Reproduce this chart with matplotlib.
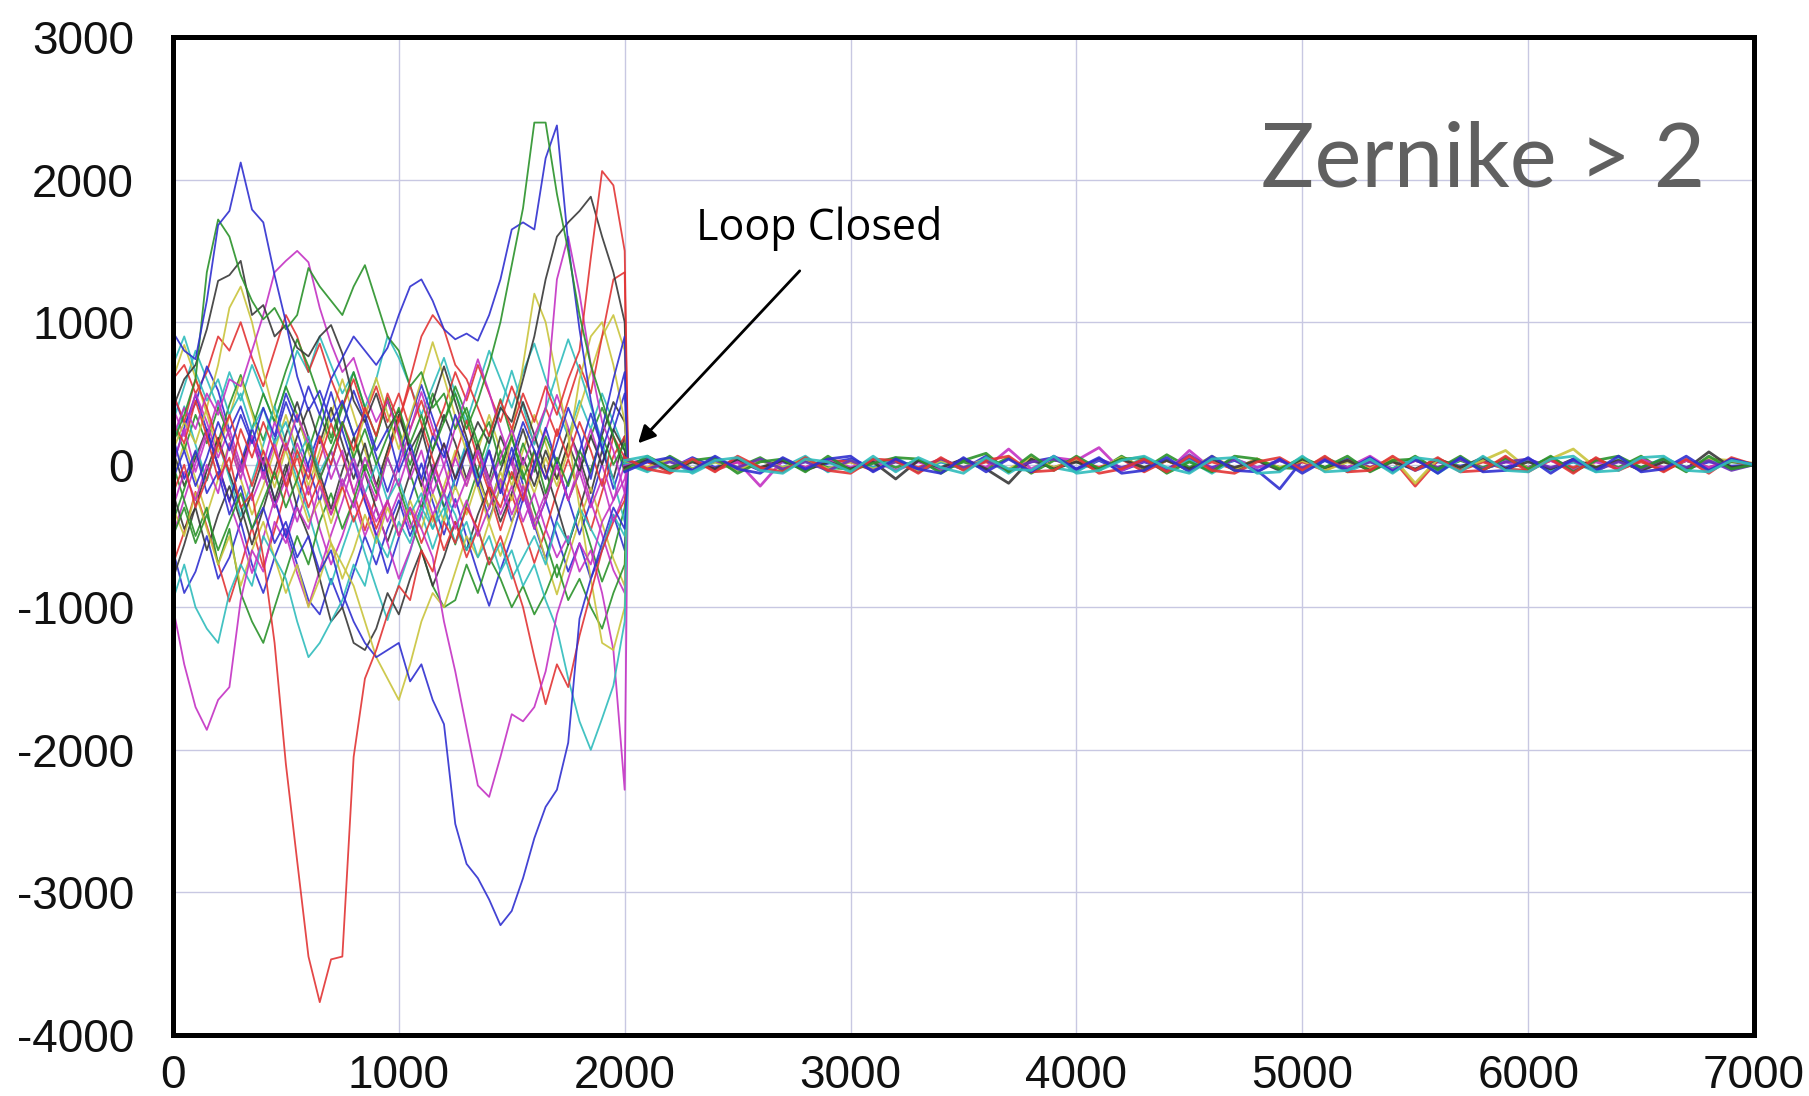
import matplotlib
matplotlib.use("Agg")
import matplotlib.pyplot as plt

# ---------------- data ----------------
open_t = list(range(0, 2001, 50))          # open-loop sample times (41)
settle_t = 2015                            # first sample after loop closure
closed_t = list(range(2000, 7001, 100))    # closed-loop sample times (51)

x_ticks = [0, 1000, 2000, 3000, 4000, 5000, 6000, 7000]
y_ticks = [-4000, -3000, -2000, -1000, 0, 1000, 2000, 3000]

blue_a = [930, 800, 740, 1150, 1680, 1780, 2120, 1790, 1700, 1330,
          1000, 620, 380, 520, 300, 450, 200, 350, 100, 250,
          -50, 150, -100, 200, 50, 350, 150, -150, 100, -200,
          50, 300, 100, -100, 150, 400, 200, -100, 250, 600, 900]
green_a = [150, 350, 600, 1350, 1720, 1600, 1330, 1150, 1020, 1100,
           950, 1050, 1380, 1250, 1150, 1050, 1250, 1400, 1150, 900,
           800, 550, 650, 400, 500, 250, 400, 150, 300, 0,
           200, -100, 100, -200, 50, -150, 100, -50, 200, 0, 150]
black_a = [400, 600, 700, 950, 1290, 1330, 1430, 1050, 1120, 900,
           980, 820, 760, 900, 980, 780, 450, 300, 500, 250,
           380, 100, 250, -50, 150, -100, 100, 300, 150, 400,
           300, 600, 900, 1300, 1600, 1700, 1780, 1880, 1600, 1350, 1000]
magenta_a = [200, 400, 250, 500, 350, 600, 550, 800, 1050, 1350,
             1430, 1500, 1420, 1100, 850, 650, 750, 500, 300, 450,
             200, -100, 100, -200, 0, -300, -100, 100, -150, 50,
             250, 0, 200, 400, 1300, 1600, 1200, 700, 300, 100, -200]
red_a = [300, 150, 450, 200, -100, 50, -300, -200, -650, -1250,
         -2100, -2780, -3450, -3770, -3470, -3450, -2050, -1500, -1300, -1050,
         -850, -950, -600, -750, -400, -550, -300, -450, -150, -300,
         -50, -250, 100, -100, 250, 50, 300, 100, -150, 200, 50]
magenta_b = [-1000, -1400, -1700, -1860, -1650, -1560, -950, -600, -750, -400,
             -550, -300, -450, -150, -350, -100, -300, -50, -250, 50,
             -150, 100, -100, -350, -200, -450, -250, -500, -300, -100,
             -350, -150, -400, -200, 0, -250, -50, -300, -100, -400, -200]
cyan_a = [-950, -700, -1000, -1150, -1250, -900, -700, -850, -500, -650,
          -800, -1100, -1350, -1250, -1100, -950, -700, -850, -500, -650,
          -400, -550, -300, -450, -200, -350, -600, -450, -700, -550,
          -800, -650, -500, -700, -400, -550, -300, -450, -600, -350, -500]
blue_b = [200, -100, 100, -200, -50, -350, -150, -450, -300, -550,
          -400, -650, -500, -750, -600, -900, -1100, -1250, -1350, -1300,
          -1250, -1520, -1400, -1650, -1820, -2520, -2800, -2900, -3050, -3230,
          -3130, -2900, -2620, -2400, -2280, -1950, -1080, -800, -550, -300, -450]
magenta_c = [-300, -50, -250, 0, -200, 150, -100, 200, 0, 300,
             100, 350, 150, -100, 100, -150, 50, -200, -400, -250,
             -500, -300, -450, -650, -1100, -1450, -1850, -2250, -2330, -2050,
             -1750, -1800, -1700, -1450, -1050, -800, -550, -700, -400, -250, -100]
red_b = [-200, 0, -300, -100, 150, -50, 250, 50, 300, 100,
         -150, 100, -100, 200, 0, 300, 100, 400, 200, 500,
         300, 600, 900, 1050, 950, 700, 600, 400, 200, 450,
         250, 500, 300, 550, 350, 600, 800, 1450, 2060, 1960, 1500]
green_b = [-500, -300, -550, -350, -600, -400, -200, -450, -250, -50,
           -300, -100, 150, -100, 100, 300, 50, 250, 0, 200,
           400, 150, 350, 100, 300, 500, 250, 450, 700, 1000,
           1400, 1800, 2400, 2400, 1900, 1500, 1050, 700, 450, 200, 0]
blue_c = [-100, 100, -150, 50, 300, 100, 350, 150, 400, 200,
          500, 300, 550, 350, 600, 750, 900, 800, 700, 820,
          1050, 1250, 1300, 1150, 950, 880, 920, 870, 1050, 1300,
          1650, 1700, 1650, 2150, 2380, 1550, 950, 450, 100, 350, 650]
red_c = [500, 300, 600, 400, 150, 350, 100, -150, 100, -100,
         150, -50, -300, -100, -350, -150, -400, -200, -450, -250,
         -500, -300, -550, -350, -600, -400, -650, -450, -700, -500,
         -750, -1000, -1350, -1680, -1400, -1560, -1200, -900, -600, -400, -250]
cyan_b = [700, 900, 650, 450, 600, 350, 500, 250, 400, 150,
          300, 50, 200, -50, 100, -150, 50, -200, 0, -250,
          -100, -350, -200, -450, -300, -550, -400, -650, -500, -750,
          -600, -850, -700, -950, -1150, -1500, -1800, -2000, -1780, -1550, -1100]
yellow_a = [100, 300, 150, 400, 700, 1100, 1250, 1000, 650, 350,
            100, -150, -400, -250, -550, -700, -850, -1100, -1350, -1500,
            -1650, -1400, -1100, -900, -1000, -750, -500, -650, -400, -150,
            200, 700, 1200, 1000, 600, 200, -300, -800, -1250, -1300, -1000]
yellow_b = [-300, -500, -200, -450, -700, -500, -850, -600, -400, -650,
            -900, -700, -1000, -800, -550, -800, -600, -350, -550, -300,
            -500, -250, -450, -200, -400, -150, -350, -100, -300, -50,
            -250, 0, -200, 50, -150, 100, 600, 900, 1000, 700, 300]
black_b = [-200, -450, -300, -600, -350, -150, -400, -200, 50, -250,
           0, -300, -500, -800, -1100, -1000, -1250, -1300, -1150, -900,
           -1050, -800, -600, -850, -650, -400, -600, -350, -150, -400,
           -200, 50, -150, 100, -100, 150, -50, 200, 0, 250, 100]
green_c = [0, -250, -500, -300, -700, -450, -900, -1100, -1250, -1000,
           -750, -500, -700, -400, -200, -450, -250, 0, -200, 50,
           -150, -400, -600, -850, -1000, -950, -700, -900, -650, -800,
           -1000, -850, -1050, -900, -700, -950, -800, -1000, -1150, -900, -700]
magenta_d = [400, 200, 500, 300, 50, 250, 0, -250, -50, -300,
             -100, 150, -50, 200, -100, 100, -200, 50, -150, -400,
             -200, -450, -250, 0, -200, 50, -150, 100, -100, -350,
             -150, -400, -200, -450, -650, -500, -750, -600, -900, -1300, -2280]
cyan_c = [300, 550, 800, 600, 400, 650, 450, 700, 500, 300,
          550, 800, 650, 900, 700, 500, 650, 400, 600, 900,
          750, 550, 350, 550, 750, 500, 300, 550, 800, 600,
          400, 650, 850, 600, 400, 200, 450, 250, 500, 300, 100]
red_d = [600, 700, 500, 650, 900, 800, 1000, 750, 550, 800,
         1050, 900, 650, 850, 600, 400, 600, 350, 550, 300,
         500, 250, 450, 200, 400, 650, 450, 700, 500, 300,
         550, 350, 150, 400, 200, 450, 700, 500, 900, 1300, 1350]
blue_d = [-600, -900, -750, -500, -800, -650, -400, -700, -900, -650,
          -450, -700, -950, -1050, -800, -1000, -750, -500, -700, -450,
          -250, -500, -300, -50, -300, -100, 150, -100, 100, -150,
          -400, -200, -450, -250, -500, -750, -550, -800, -600, -350, -600]
green_d = [300, 100, 350, 150, 400, 200, -50, 250, 500, 300,
           550, 350, 100, 350, 150, 400, 650, 400, 200, 450,
           250, 0, 250, 500, 300, 550, 350, 100, -150, 100,
           -100, 150, -50, 200, 0, -250, -50, 200, 400, 200, -50]
black_c = [100, -150, 50, 250, 0, -250, 0, 200, -50, -300,
           -50, 200, 400, 150, 400, 150, -100, 150, -150, 100,
           350, 100, -150, 100, 350, 150, -100, 150, -100, 200,
           0, 250, 0, -250, 0, 250, 50, -200, 100, -100, 200]
yellow_c = [-100, 150, -100, -350, -100, 150, -100, -350, -150, 100,
            350, 100, -150, 100, 350, 600, 350, 100, -150, 100,
            350, 100, -150, -400, -150, 100, -150, 100, 350, 100,
            -150, 100, 350, 150, -100, 150, 400, 650, 900, 1050, 800]
magenta_e = [0, 250, -50, 200, 450, 200, -50, 200, -100, 150,
             -150, -400, -150, -450, -700, -500, -250, -500, -300, -550,
             -800, -600, -350, -100, 150, -100, 100, -150, 100, -200,
             50, -200, -450, -250, 0, -250, 0, 250, 0, -250, 0]
blue_e = [500, 280, 430, 690, 520, 240, 410, 180, -60, 170,
          440, 230, -20, -260, 10, 270, 520, 310, 60, -190,
          40, 320, 560, 330, 90, -170, 110, -130, -380, -160,
          120, -140, -420, -660, -380, -120, 90, 360, 120, -170, 80]
green_e = [-400, -170, 90, -110, 160, 420, 630, 380, 170, 410,
           660, 880, 690, 460, 190, 430, 210, -40, 190, 470,
           220, -60, -310, -40, -290, -560, -280, -40, 210, 460,
           190, -60, -320, -540, -790, -560, -310, -570, -820, -610, -300]
red_e = [-700, -470, -190, -430, -690, -960, -710, -440, -720, -460,
         -180, 60, -210, 40, 290, 60, -190, -460, -220, 60,
         310, 560, 290, 40, -210, 60, 310, 40, -190, -460,
         -210, -440, -690, -460, -190, 40, -210, -460, -190, 60, 200]
cyan_d = [150, 410, 140, -110, 160, -90, -360, -110, 140, 410,
          160, -110, -340, -610, -840, -590, -360, -620, -860, -1090,
          -840, -610, -340, -590, -360, -90, 160, -110, 140, 390,
          660, 410, 140, 390, 640, 880, 660, 410, 160, -110, -400]
yellow_d = [600, 840, 610, 360, 90, 340, 610, 360, 90, -160,
            110, 360, 90, -140, -410, -160, 90, 340, 610, 360,
            110, 340, 590, 860, 610, 340, 90, -160, -410, -640,
            -410, -140, -390, -660, -910, -640, -390, -160, -410, -660, -850]
black_d = [-800, -560, -290, -40, 190, -60, -290, -560, -310, -40,
           210, 440, 190, -60, -310, -40, 190, -60, -310, -540,
           -310, -60, 190, 440, 690, 440, 190, -60, -310, -40,
           190, 440, 210, -40, -290, -560, -310, -40, 210, 440, 300]
magenta_f = [-500, -240, 10, 240, -10, -260, -490, -760, -510, -240,
             -490, -760, -990, -740, -490, -260, 10, -240, -510, -260,
             -10, 240, 510, 260, -10, 260, 490, 740, 510, 240,
             10, -260, -10, 240, 490, 260, 10, -260, -490, -740, -900]
blue_f = [0, 260, 490, 240, -10, -260, 10, 260, 10, -240,
          -510, -260, 10, 240, 510, 240, -10, -260, -490, -760,
          -510, -240, 10, -260, -490, -240, -510, -760, -990, -740,
          -510, -240, 10, 260, 10, -240, -490, -260, 10, 240, 500]

open_series = [
    ("cyan_c", cyan_c), ("yellow_c", yellow_c), ("green_d", green_d),
    ("black_c", black_c), ("blue_d", blue_d), ("red_d", red_d),
    ("blue_e", blue_e), ("green_e", green_e), ("red_e", red_e),
    ("cyan_d", cyan_d), ("yellow_d", yellow_d), ("black_d", black_d),
    ("magenta_f", magenta_f), ("blue_f", blue_f),
    ("magenta_e", magenta_e), ("green_c", green_c), ("black_b", black_b),
    ("yellow_b", yellow_b), ("magenta_d", magenta_d), ("cyan_a", cyan_a),
    ("yellow_a", yellow_a), ("cyan_b", cyan_b), ("red_c", red_c),
    ("magenta_b", magenta_b), ("magenta_c", magenta_c), ("blue_b", blue_b),
    ("red_a", red_a), ("magenta_a", magenta_a), ("black_a", black_a),
    ("green_a", green_a), ("blue_a", blue_a), ("red_b", red_b),
    ("blue_c", blue_c), ("green_b", green_b),
]
settle_values = [20, -30, 40, -20, 30, -40, 10, -10, 30, -30, 20, -20, 40,
                 -40, 10, 30, -10, 20, 0, -30, 40, 20, -20, 30, 10, -10,
                 -20, 30, -40, 20, -10, 40, -30, 10]

# closed-loop residuals (51 samples each, 2000..7000)
cl_blue = [0, 40, -30, 50, -20, 30, -40, 20, -30, 10,
           40, -20, 30, -50, 20, -30, 60, -40, 20, 50,
           -40, 30, -40, 20, -30, 40, -20, 30, -40, -170,
           30, -30, 40, -20, 30, -40, 20, -10, 30, -20,
           40, -30, 20, -40, 30, -20, 40, -30, 20, -10, 0]
cl_green = [20, -40, 60, -30, 40, -20, 50, -40, 30, -20,
            -30, 40, -20, 30, -40, 20, -30, 50, -60, 30,
            20, -40, 60, -30, 70, -20, 50, -40, 30, -20,
            -30, 50, -20, 40, -30, 60, -40, 30, -20, 40,
            -20, 50, -30, 40, -20, 60, -40, 30, -30, 20, 0]
cl_red = [-30, 20, -50, 30, -40, 20, -30, 40, -20, 30,
          20, -40, 30, -20, 40, -30, 20, -40, 30, -20,
          30, -20, 40, -50, 30, -40, 20, -30, 40, -30,
          20, -40, 30, -20, 40, -150, 30, -40, 20, -30,
          -40, 30, -20, 40, -30, 20, -40, 30, -20, 30, -10]
cl_cyan = [10, -50, 30, -60, 20, -40, 30, -20, 60, -50,
           30, -20, 50, -40, 20, -30, 40, -60, 30, -20,
           -50, 40, -30, 50, -40, 30, -60, 40, -20, 30,
           -40, 30, -50, 20, -30, 50, -60, 40, -30, 20,
           30, -40, 20, -50, 40, -30, 50, -20, 40, -30, 10]
cl_magenta = [-10, 30, -20, 40, -30, 20, -150, 30, -20, 40,
              -20, 30, -40, 20, -30, 40, -20, 110, -30, 50,
              30, 120, -40, 30, -50, 100, -30, 40, -20, 30,
              -30, 40, -20, 60, -40, 30, -20, 40, -30, 20,
              -20, 30, -40, 20, -30, 40, -20, 30, -20, 40, 0]
cl_yellow = [30, -20, 40, -30, 20, -40, 30, -20, 40, -30,
             20, -30, 20, -40, 30, -20, 40, -30, 50, -20,
             40, -30, 50, -20, 30, -40, 60, -30, 40, -20,
             30, -40, 20, -30, 50, -130, 40, -20, 30, 100,
             -30, 40, 110, -20, 30, -40, 20, -30, 40, 30, 10]
cl_black = [-20, 30, -40, 20, -30, 40, -20, 30, -40, 20,
            -30, 20, -100, 30, -20, 40, -30, -130, 40, -30,
            20, -30, 40, -20, 30, -30, 40, -20, 30, -40,
            40, -20, 30, -40, 20, -30, 40, -20, 50, -30,
            20, -30, 40, -20, 30, -40, 20, -30, 90, -20, 0]
cl_purple = [40, -30, 20, -40, 30, -20, 40, -30, 20, -40,
             30, -40, 20, -30, 40, -20, 30, -40, 20, 40,
             -30, 40, -20, 30, -40, 70, -30, 40, -50, 30,
             -20, 40, -30, 20, -40, 30, -20, 40, -30, 20,
             40, -20, 30, -40, 20, -30, 40, -20, 30, -40, 0]
cl_green2 = [-40, 60, -20, 30, 50, -60, 20, 40, -50, 60,
             -40, 10, 50, 40, -60, 30, 80, -50, 70, -40,
             60, -30, 40, 50, -60, 20, -50, 60, 40, -30,
             50, -20, 60, -50, 30, 40, -30, 60, -40, 50,
             -30, 60, -50, 30, 60, -20, 40, -50, 60, -30, 0]
cl_red2 = [50, -30, -60, 40, -50, 60, -20, -50, 50, -40,
           -60, 40, 30, -60, 50, -40, 30, 60, -50, -40,
           50, -60, -30, 40, -50, 60, -40, -60, 20, 50,
           -40, 60, -50, -40, 60, -40, 50, -50, -40, 60,
           -50, 40, -60, 50, -40, 30, -50, 40, -60, 50, 0]
cl_blue2 = [-50, 20, 50, -40, 60, -30, -60, 50, -30, 40,
            60, -50, 40, -30, -60, 50, -50, 40, -50, 60,
            -30, 50, -60, -40, 50, -50, 60, -40, -50, 40,
            -60, 30, -40, 50, -50, 40, -60, 50, -50, -40,
            50, -60, 40, -40, 60, -50, -30, 60, -40, 40, 0]
cl_cyan2 = [30, 60, -40, -50, 30, 50, -40, -60, 40, 20,
            -50, 60, -50, 50, -20, -60, 50, -30, -40, 60,
            -60, -40, 30, 60, -20, -60, 40, 50, -60, -50,
            60, -50, -40, 40, -60, 50, 30, -50, 60, -40,
            -50, 40, 60, -50, -40, 50, 60, -40, -50, 30, 0]
closed_series = [("blue", cl_blue), ("green", cl_green), ("red", cl_red),
                 ("cyan", cl_cyan), ("magenta", cl_magenta),
                 ("yellow", cl_yellow), ("black", cl_black), ("purple", cl_purple),
                 ("green", cl_green2), ("red", cl_red2), ("blue", cl_blue2),
                 ("cyan", cl_cyan2)]

# ---------------- style ----------------
palette = {"blue": "#2f2fd0", "green": "#2a922a", "red": "#e23434",
           "cyan": "#2fbcbc", "magenta": "#c432c4", "yellow": "#c9c43c",
           "black": "#383838", "purple": "#6a2fb8"}

def color_of(name):
    return palette[name.split("_")[0]]

plt.rcParams["font.family"] = ["Liberation Sans", "DejaVu Sans"]

fig = plt.figure(figsize=(18.09, 10.96), dpi=100)
ax = fig.add_axes([0.0956, 0.0557, 0.874, 0.9105])

for (name, vals), sv in zip(open_series, settle_values):
    ax.plot(open_t + [settle_t], vals + [sv], color=color_of(name),
            lw=1.3, alpha=0.9, zorder=3)

for name, vals in closed_series:
    ax.plot(closed_t, vals, color=palette[name], lw=2.0, alpha=0.9, zorder=3)

ax.set_xlim(0, 7000)
ax.set_ylim(-4000, 3000)
ax.set_xticks(x_ticks)
ax.set_yticks(y_ticks)
ax.set_xticklabels([str(v) for v in x_ticks])
ax.set_yticklabels([str(v) for v in y_ticks])
ax.grid(True, color="#c8c8e2", lw=1.0, zorder=0)
ax.set_axisbelow(True)
ax.tick_params(axis="both", length=0, labelsize=33, colors="#111111")
ax.tick_params(axis="y", pad=28)
ax.tick_params(axis="x", pad=14)
for sp in ax.spines.values():
    sp.set_linewidth(3.6)
    sp.set_color("black")
    sp.set_zorder(5)

ax.text(5800, 2130, "Zernike > 2", fontsize=64, color="#606060",
        ha="center", va="center", family=["Lato", "DejaVu Sans"],
        fontweight="normal", zorder=6)
ax.text(2860, 1660, "Loop Closed", fontsize=31, color="black",
        ha="center", va="center", family=["Open Sans", "DejaVu Sans"], zorder=6)
ax.annotate("", xy=(2060, 150), xytext=(2775, 1360),
            arrowprops=dict(arrowstyle="-|>", color="black", lw=2.0,
                            mutation_scale=26, shrinkA=0, shrinkB=0),
            zorder=6)

fig.savefig("out.png", dpi=100)
